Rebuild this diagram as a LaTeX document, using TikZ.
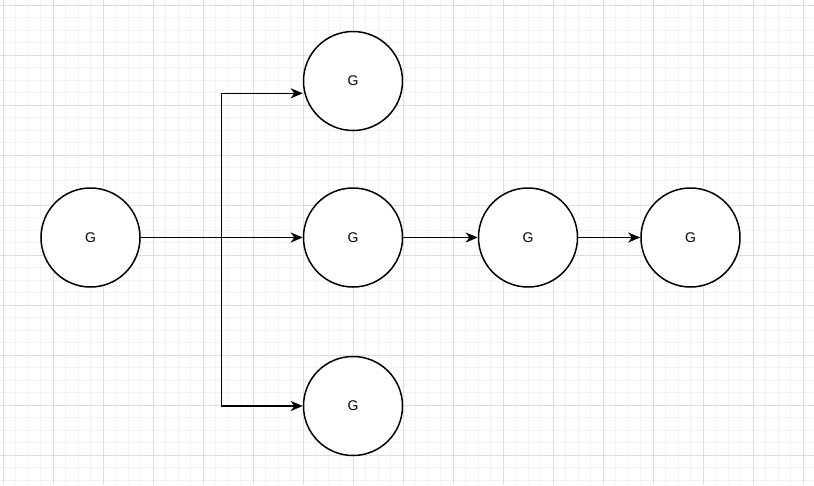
\documentclass[tikz,border=0pt]{standalone}
\usepackage{fontspec}
\setmainfont{Liberation Sans}
\usetikzlibrary{arrows.meta}
\definecolor{gminor}{HTML}{F3F3F3}
\definecolor{gmajor}{HTML}{DDDDDD}
\begin{document}
\begin{tikzpicture}[x=1pt,y=-1pt,
  gnode/.style={circle,draw=black,line width=1.5pt,fill=white,minimum size=99pt,inner sep=0pt,font=\fontsize{14}{16}\selectfont},
  conn/.style={line width=1.5pt,draw=black},
  arr/.style={conn,-{Stealth[length=12pt,width=10pt,inset=3.5pt]}}]
\useasboundingbox (0,0) rectangle (814,485);
\fill[white] (0,0) rectangle (814,485);
% grid
\foreach \i in {0,...,66} {
  \pgfmathsetmacro\xx{3+12.5*\i}
  \draw[gminor,line width=0.7pt] (\xx,0) -- (\xx,485);
}
\foreach \i in {0,...,39} {
  \pgfmathsetmacro\yy{5+12.5*\i}
  \draw[gminor,line width=0.7pt] (0,\yy) -- (814,\yy);
}
\foreach \i in {0,...,16} {
  \pgfmathsetmacro\xx{3+50*\i}
  \draw[gmajor,line width=0.7pt] (\xx,0) -- (\xx,485);
}
\foreach \i in {0,...,9} {
  \pgfmathsetmacro\yy{5+50*\i}
  \draw[gmajor,line width=0.7pt] (0,\yy) -- (814,\yy);
}
% nodes
\node[gnode] (a) at (90.5,237.5) {G};
\node[gnode] (t) at (353,81) {G};
\node[gnode] (m) at (353,237.5) {G};
\node[gnode] (b) at (353,406) {G};
\node[gnode] (r1) at (528,237.5) {G};
\node[gnode] (r2) at (690.5,237.5) {G};
\coordinate (j) at (221.5,237.5);
\coordinate (jt) at (221.5,93.3);
% connectors
\draw[arr] (a.east) -- (m.west);
\draw[arr] (j) |- (t.west |- jt);
\draw[arr] (j) |- (b.west);
\draw[arr] (m.east) -- (r1.west);
\draw[arr] (r1.east) -- (r2.west);
\end{tikzpicture}
\end{document}
